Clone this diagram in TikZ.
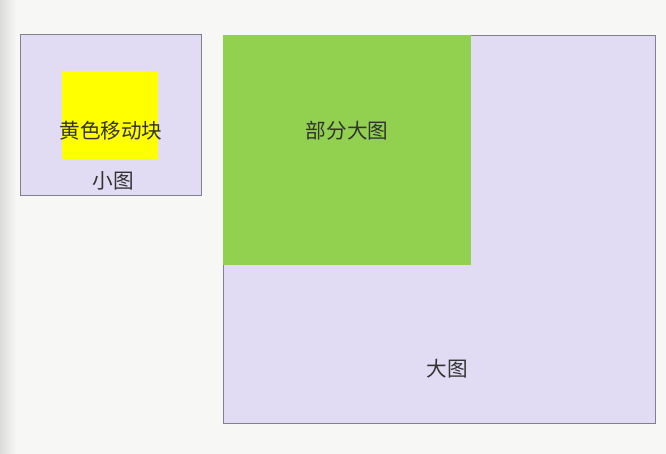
\documentclass[tikz,border=0pt]{standalone}
\usepackage{fontspec}
\newfontfamily\cjk{Noto Sans CJK SC}
\definecolor{pagebg}{HTML}{F7F7F6}
\definecolor{lavender}{HTML}{E1DCF3}
\definecolor{boxline}{HTML}{80808F}
\definecolor{partgreen}{HTML}{92D050}
\definecolor{blockyellow}{HTML}{FFFF00}
\definecolor{textgray}{HTML}{333333}

\begin{document}
\begin{tikzpicture}[x=1pt, y=-1pt,
                    view box/.style={draw=boxline,line width=0.8pt,fill=lavender,inner sep=0pt,anchor=north west},
                    plain box/.style={inner sep=0pt,anchor=north west},
                    label text/.style={font=\cjk\fontsize{20.6}{21}\selectfont,text=textgray,inner sep=0pt}]

  % page
  \fill[pagebg] (0,0) rectangle (666,454);
  \shade[left color=black!14, right color=pagebg] (0,0) rectangle (16,454);
  \useasboundingbox (0,0) rectangle (666,454);

  % small view
  \node[view box,minimum width=181,minimum height=161] (small) at (20,34) {};
  \node[plain box,fill=blockyellow,minimum width=96,minimum height=88] (block) at (62,71) {};
  \node[label text] (blocktext) at (111,131) {黄色移动块};
  \node[label text] (smalltext) at (113,181) {小图};

  % big view
  \node[view box,minimum width=432,minimum height=388] (big) at (223,35) {};
  \node[plain box,fill=partgreen,minimum width=248,minimum height=230] (part) at (223,35) {};
  \node[label text] (parttext) at (347,131) {部分大图};
  \node[label text] (bigtext) at (447,369) {大图};

\end{tikzpicture}
\end{document}
